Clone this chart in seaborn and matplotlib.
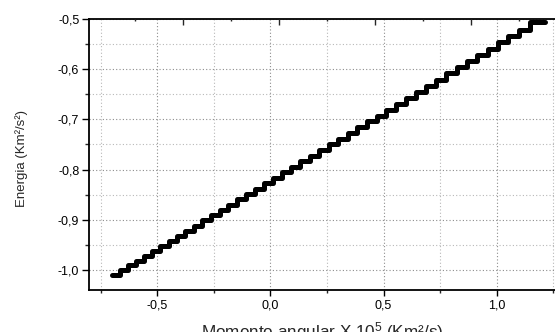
import matplotlib
matplotlib.use('Agg')
import matplotlib.pyplot as plt
import pandas as pd
import seaborn as sns
from matplotlib.ticker import MultipleLocator, FixedLocator, NullFormatter

# --- data ---
momento = [-0.700, -0.665, -0.630, -0.594, -0.558, -0.522, -0.486, -0.449,
           -0.412, -0.375, -0.338, -0.300, -0.262, -0.224, -0.185, -0.146,
           -0.107, -0.068, -0.028, 0.012, 0.052, 0.092, 0.133, 0.174,
           0.215, 0.257, 0.299, 0.341, 0.383, 0.426, 0.469, 0.512,
           0.555, 0.599, 0.643, 0.687, 0.732, 0.777, 0.822, 0.867,
           0.913, 0.959, 1.005, 1.051, 1.098, 1.145, 1.215]
energia = [-1.0103, -1.0008, -0.9911, -0.9814, -0.9716, -0.9619, -0.9520, -0.9419,
           -0.9319, -0.9219, -0.9117, -0.9014, -0.8911, -0.8807, -0.8701, -0.8595,
           -0.8490, -0.8382, -0.8274, -0.8166, -0.8057, -0.7947, -0.7836, -0.7725,
           -0.7613, -0.7499, -0.7385, -0.7271, -0.7156, -0.7039, -0.6923, -0.6806,
           -0.6688, -0.6569, -0.6450, -0.6329, -0.6207, -0.6085, -0.5963, -0.5840,
           -0.5715, -0.5590, -0.5465, -0.5339, -0.5212, -0.5053, -0.5053]

x_ticks = [-0.5, 0.0, 0.5, 1.0]
x_tick_labels = ["-0,5", "0,0", "0,5", "1,0"]
y_ticks = [-1.0, -0.9, -0.8, -0.7, -0.6, -0.5]
y_tick_labels = ["-1,0", "-0,9", "-0,8", "-0,7", "-0,6", "-0,5"]
x_label = "Momento angular X 10$^{5}$ (Km²/s)"
y_label = "Energia (Km²/s²)"

sns.set_style('ticks')
plt.rcParams['font.family'] = ['Liberation Sans', 'DejaVu Sans']
plt.rcParams['mathtext.fontset'] = 'custom'
plt.rcParams['mathtext.rm'] = 'Liberation Sans'
plt.rcParams['mathtext.it'] = 'Liberation Sans'
plt.rcParams['mathtext.bf'] = 'Liberation Sans'

fig = plt.figure(figsize=(5.55, 3.32), dpi=100)
ax = fig.add_axes([89 / 555, 42 / 332, 466 / 555, 271 / 332])

df = pd.DataFrame({'Momento': momento, 'Energia': energia})
sns.lineplot(data=df, x='Momento', y='Energia', ax=ax, color='black',
             linewidth=3.6, drawstyle='steps-post', estimator=None, sort=False,
             solid_joinstyle='round', solid_capstyle='round')

ax.set_xlim(-0.801, 1.257)
ax.set_ylim(-1.04, -0.5)

ax.xaxis.set_major_locator(FixedLocator(x_ticks))
ax.set_xticklabels(x_tick_labels)
ax.xaxis.set_minor_locator(MultipleLocator(0.25))
ax.yaxis.set_major_locator(FixedLocator(y_ticks))
ax.set_yticklabels(y_tick_labels)
ax.yaxis.set_minor_locator(MultipleLocator(0.05))

ax.grid(which='major', color='#8c8c8c', linestyle=(0, (1, 2)), linewidth=0.8)
ax.grid(which='minor', color='#b8b8b8', linestyle=(0, (1, 2)), linewidth=0.8)

ax.tick_params(axis='both', which='major', labelsize=9, colors='black', width=1.0)
ax.tick_params(axis='x', which='major', direction='out', length=4, pad=3)
ax.tick_params(axis='x', which='minor', direction='out', length=2.5, width=1.0)
ax.tick_params(axis='y', which='major', direction='out', length=5, pad=2)
ax.tick_params(axis='y', which='minor', direction='out', length=2.7, width=1.0)

for s in ['left', 'bottom', 'top']:
    ax.spines[s].set_visible(True)
    ax.spines[s].set_color('black')
    ax.spines[s].set_linewidth(1.3)
ax.spines['right'].set_visible(False)

ax.set_xlabel(x_label, fontsize=12.3)
ax.xaxis.set_label_coords(0.5, -0.112)
ax.xaxis.label.set_verticalalignment('top')
ax.set_ylabel(y_label, fontsize=9.5)
ax.yaxis.set_label_coords(-0.131, 0.485)

# top axis with its own tick marks (no labels)
top = ax.twiny()
top.set_xlim((-0.801 + 0.385) / 0.4235, (1.257 + 0.385) / 0.4235)
top.xaxis.set_major_locator(MultipleLocator(1.0))
top.xaxis.set_minor_locator(MultipleLocator(0.5))
top.xaxis.set_major_formatter(NullFormatter())
top.tick_params(axis='x', which='major', direction='in', length=4, width=1.0)
top.tick_params(axis='x', which='minor', direction='in', length=1.5, width=1.0)
for s in top.spines.values():
    s.set_visible(False)
top.grid(False)

fig.savefig('out.png', dpi=100)
